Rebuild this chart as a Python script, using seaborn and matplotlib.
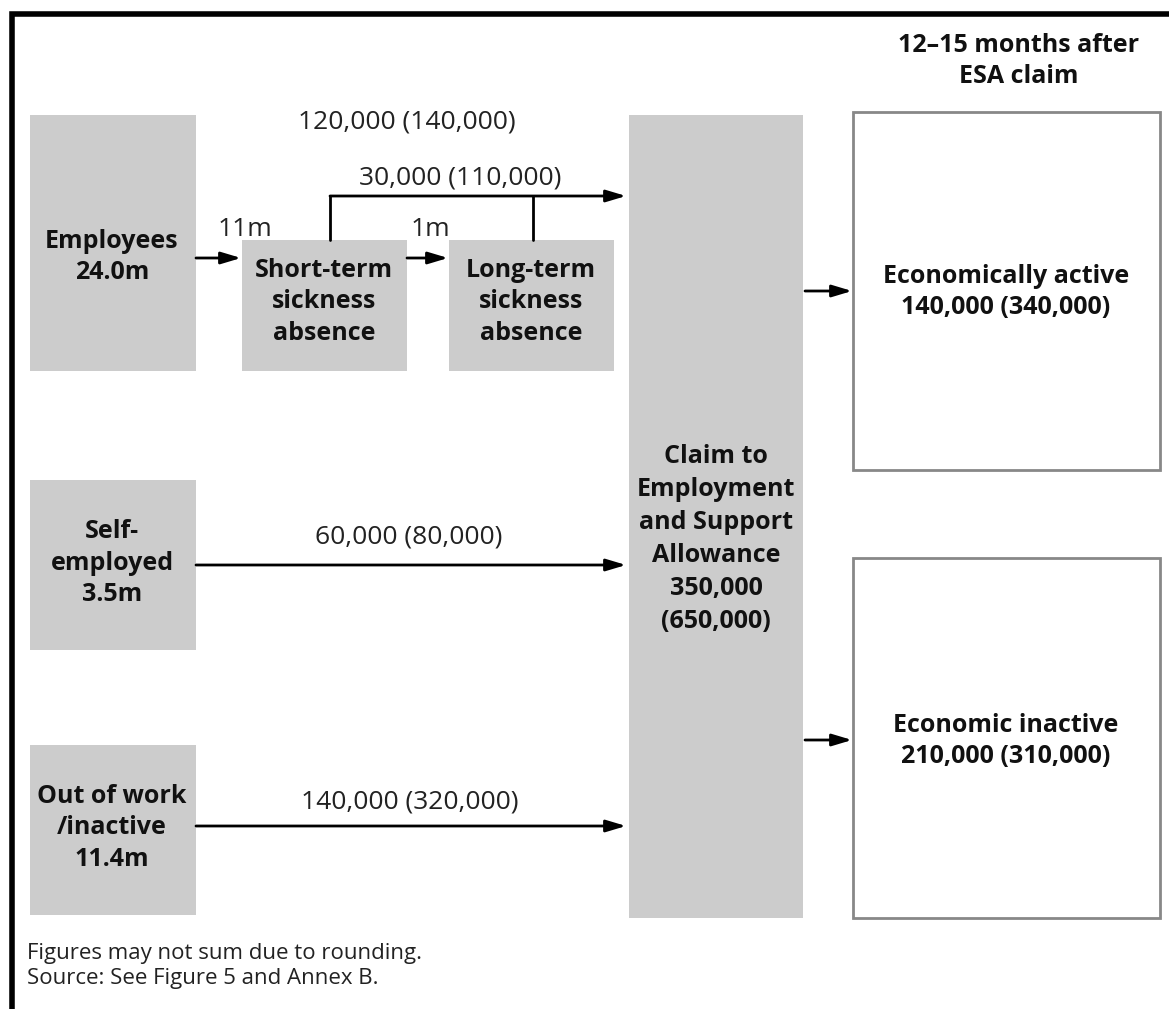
import matplotlib
matplotlib.use("Agg")
import matplotlib.pyplot as plt
from matplotlib.patches import Rectangle
import seaborn as sns

sns.set_theme(style="white")
plt.rcParams['font.family'] = ['Open Sans', 'DejaVu Sans']

# ---- data ----
source_labels = ["Employees\n24.0m", "Self-\nemployed\n3.5m", "Out of work\n/inactive\n11.4m"]
absence_labels = ["Short-term\nsickness\nabsence", "Long-term\nsickness\nabsence"]
claim_label = "Claim to\nEmployment\nand Support\nAllowance\n350,000\n(650,000)"
outcome_labels = ["Economically active\n140,000 (340,000)", "Economic inactive\n210,000 (310,000)"]
flow_labels = ["120,000 (140,000)", "30,000 (110,000)", "11m", "1m", "60,000 (80,000)", "140,000 (320,000)"]
header = "12–15 months after\nESA claim"
footer = "Figures may not sum due to rounding.\nSource: See Figure 5 and Annex B."

W, H = 1169, 1009
fig = plt.figure(figsize=(W / 100, H / 100), dpi=100)
ax = fig.add_axes([0, 0, 1, 1])
ax.set_xlim(0, W)
ax.set_ylim(H, 0)
ax.axis("off")

GRAY = "#cccccc"

def box(x0, y0, x1, y1, fc=GRAY, ec="none", lw=0):
    ax.add_patch(Rectangle((x0, y0), x1 - x0, y1 - y0, facecolor=fc, edgecolor=ec, lw=lw))

def arrow(x0, y0, x1, y1):
    ax.annotate("", xy=(x1, y1), xytext=(x0, y0),
                arrowprops=dict(arrowstyle="-|>,head_length=1.0,head_width=0.3",
                                color="black", lw=2, shrinkA=0, shrinkB=0))

bold = dict(fontsize=18, fontweight="bold", ha="center", va="center", color="#111111", linespacing=1.33)
reg = dict(fontsize=19, ha="center", va="center", color="#222222")

# frame
ax.plot([12, 12, W], [H, 14, 14], color="black", lw=4, solid_capstyle="butt", solid_joinstyle="miter")

# boxes
box(30, 115, 196, 371)
box(242, 240, 407, 371)
box(449, 240, 614, 371)
box(30, 480, 196, 650)
box(30, 745, 196, 915)
box(629, 115, 803, 918)
box(853, 112, 1160, 470, fc="white", ec="#888888", lw=2)
box(853, 558, 1160, 918, fc="white", ec="#888888", lw=2)

# node labels
ax.text(112, 257, source_labels[0], **bold)
ax.text(112, 563, source_labels[1], **bold)
ax.text(112, 828, source_labels[2], **bold)
ax.text(324, 302, absence_labels[0], **bold)
ax.text(531, 302, absence_labels[1], **bold)
ax.text(716, 539, claim_label, fontsize=18, fontweight="bold", ha="center", va="center",
        color="#111111", linespacing=1.42)
ax.text(1006, 292, outcome_labels[0], **bold)
ax.text(1006, 741, outcome_labels[1], **bold)
ax.text(1019, 61, header, **bold)

# arrows
arrow(196, 258, 241, 258)
arrow(407, 258, 448, 258)
ax.plot([330, 330], [240, 196], color="black", lw=2)
ax.plot([533, 533], [240, 196], color="black", lw=2)
arrow(330, 196, 626, 196)
arrow(196, 565, 626, 565)
arrow(196, 826, 626, 826)
arrow(805, 291, 852, 291)
arrow(805, 740, 852, 740)

# flow labels
ax.text(407, 122, flow_labels[0], **reg)
ax.text(460, 178, flow_labels[1], **reg)
ax.text(245, 229, flow_labels[2], **reg)
ax.text(430, 229, flow_labels[3], **reg)
ax.text(409, 537, flow_labels[4], **reg)
ax.text(410, 802, flow_labels[5], **reg)

ax.text(27, 966, footer, fontsize=16, ha="left", va="center", color="#222222", linespacing=1.3)

fig.savefig("out.png", dpi=100, facecolor="white")
